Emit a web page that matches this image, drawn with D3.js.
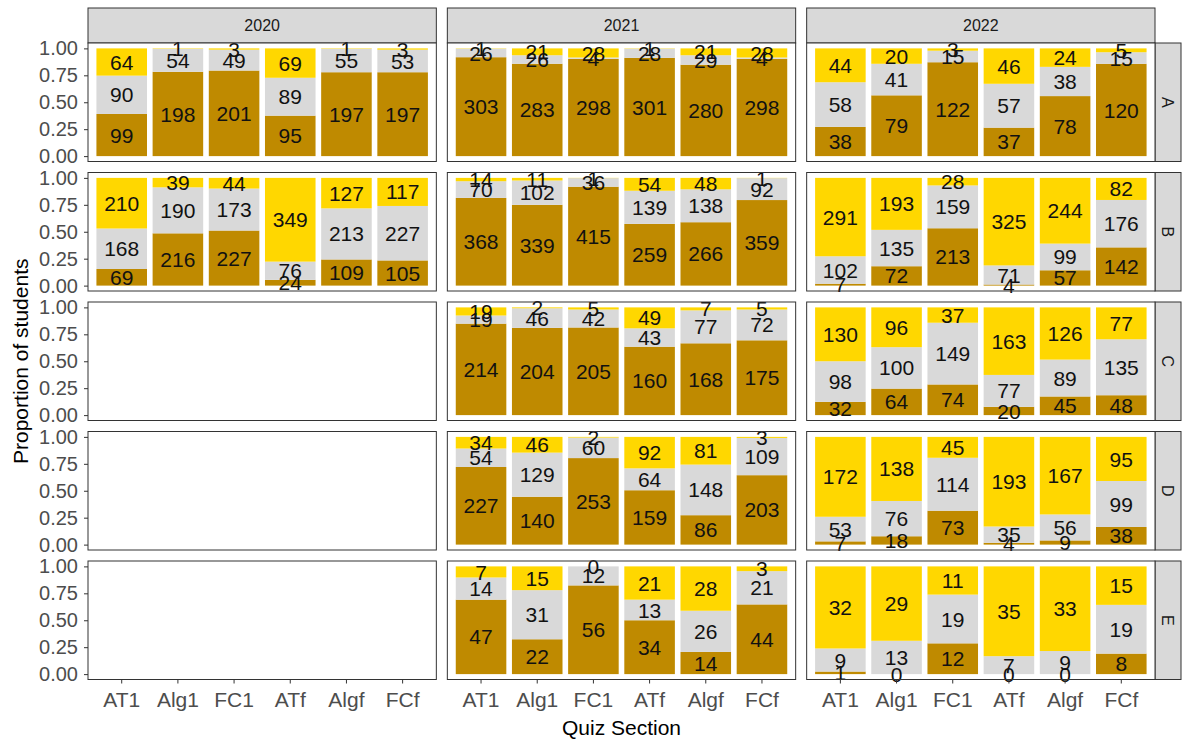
<!DOCTYPE html>
<html>
<head>
<meta charset="utf-8">
<script src="https://cdn.jsdelivr.net/npm/d3@7"></script>
<style>
  body { margin: 0; background: #fff; }
  svg { display: block; font-family: "Liberation Sans", Arial, sans-serif; }
</style>
</head>
<body>
<svg id="chart" width="1183" height="740"></svg>
<script>
// Facets, categories and outcome groups
const years = ["2020", "2021", "2022"];
const sections = ["A", "B", "C", "D", "E"];
const quizzes = ["AT1", "Alg1", "FC1", "ATf", "Algf", "FCf"];
const outcomes = ["Full", "Partial", "None"];           // stacked bottom -> top
const yTicks = [0, 0.25, 0.5, 0.75, 1];

// Student counts: one row per section (A..E), one value per quiz section.
// null = section not run that year.
const full2020 = [
  [99, 198, 201, 95, 197, 197],
  [69, 216, 227, 24, 109, 105],
  null, null, null
];
const partial2020 = [
  [90, 54, 49, 89, 55, 53],
  [168, 190, 173, 76, 213, 227],
  null, null, null
];
const none2020 = [
  [64, 1, 3, 69, 1, 3],
  [210, 39, 44, 349, 127, 117],
  null, null, null
];

const full2021 = [
  [303, 283, 298, 301, 280, 298],
  [368, 339, 415, 259, 266, 359],
  [214, 204, 205, 160, 168, 175],
  [227, 140, 253, 159, 86, 203],
  [47, 22, 56, 34, 14, 44]
];
const partial2021 = [
  [26, 26, 4, 28, 29, 4],
  [70, 102, 36, 139, 138, 92],
  [19, 46, 42, 43, 77, 72],
  [54, 129, 60, 64, 148, 109],
  [14, 31, 12, 13, 26, 21]
];
const none2021 = [
  [1, 21, 28, 1, 21, 28],
  [14, 11, 1, 54, 48, 1],
  [19, 2, 5, 49, 7, 5],
  [34, 46, 2, 92, 81, 3],
  [7, 15, 0, 21, 28, 3]
];

const full2022 = [
  [38, 79, 122, 37, 78, 120],
  [7, 72, 213, 4, 57, 142],
  [32, 64, 74, 20, 45, 48],
  [7, 18, 73, 4, 9, 38],
  [1, 0, 12, 0, 0, 8]
];
const partial2022 = [
  [58, 41, 15, 57, 38, 15],
  [102, 135, 159, 71, 99, 176],
  [98, 100, 149, 77, 89, 135],
  [53, 76, 114, 35, 56, 99],
  [9, 13, 19, 7, 9, 19]
];
const none2022 = [
  [44, 20, 3, 46, 24, 5],
  [291, 193, 28, 325, 244, 82],
  [130, 96, 37, 163, 126, 77],
  [172, 138, 45, 193, 167, 95],
  [32, 29, 11, 35, 33, 15]
];

const countsByYear = {
  "2020": [full2020, partial2020, none2020],
  "2021": [full2021, partial2021, none2021],
  "2022": [full2022, partial2022, none2022]
};

// ---- styling ----
// brown at the bottom, grey in the middle, gold on top
const fillColor = d3.scaleOrdinal().domain(outcomes).range(["#BF8A00", "#D9D9D9", "#FFD700"]);

const svg = d3.select("#chart");

const gridL = 88, gridR = 1155, gridT = 43, gridB = 679.5;
const colGap = 11, rowGap = 11;
const facetX = d3.scaleBand().domain(years).range([gridL, gridR])
  .paddingInner(colGap / ((gridR - gridL + colGap) / 3));
const facetY = d3.scaleBand().domain(sections).range([gridT, gridB])
  .paddingInner(rowGap / ((gridB - gridT + rowGap) / 5));
const pw = facetX.bandwidth(), ph = facetY.bandwidth();

const x = d3.scaleBand().domain(quizzes).range([0, pw]).paddingInner(0.1).paddingOuter(0.15);
const y = d3.scaleLinear().domain([-0.05, 1.05]).range([ph, 0]);

const stripTop = 8, stripRightW = 26;

// top strips (years)
years.forEach(yr => {
  const g = svg.append("g").attr("transform", `translate(${facetX(yr)},${stripTop})`);
  g.append("rect").attr("width", pw).attr("height", gridT - stripTop)
    .attr("fill", "#D9D9D9").attr("stroke", "#333").attr("stroke-width", 1);
  g.append("text").attr("x", pw / 2).attr("y", (gridT - stripTop) / 2).attr("dy", "0.36em")
    .attr("text-anchor", "middle").attr("font-size", 16).attr("fill", "#1A1A1A").text(yr);
});

// right strips (sections)
sections.forEach(sec => {
  const g = svg.append("g").attr("transform", `translate(${gridR},${facetY(sec)})`);
  g.append("rect").attr("width", stripRightW).attr("height", ph)
    .attr("fill", "#D9D9D9").attr("stroke", "#333").attr("stroke-width", 1);
  g.append("text").attr("transform", `translate(${stripRightW / 2},${ph / 2}) rotate(90)`)
    .attr("dy", "0.36em").attr("text-anchor", "middle").attr("font-size", 16)
    .attr("fill", "#1A1A1A").text(sec);
});

// panels
years.forEach(yr => {
  sections.forEach((sec, si) => {
    const g = svg.append("g").attr("transform", `translate(${facetX(yr)},${facetY(sec)})`);
    g.append("rect").attr("width", pw).attr("height", ph).attr("fill", "#fff");

    const sets = countsByYear[yr];
    const rows = sets.map(s => s[si]);
    if (rows[0]) {
      const segs = [];
      quizzes.forEach((q, qi) => {
        const vals = rows.map(r => r[qi]);
        const total = d3.sum(vals);
        let acc = 0;
        vals.forEach((v, k) => {
          const y0 = acc / total, y1 = (acc + v) / total;
          segs.push({ q, outcome: outcomes[k], n: v, y0, y1 });
          acc += v;
        });
      });
      g.selectAll("rect.bar").data(segs).join("rect").attr("class", "bar")
        .attr("x", d => x(d.q)).attr("width", x.bandwidth())
        .attr("y", d => y(d.y1)).attr("height", d => y(d.y0) - y(d.y1))
        .attr("fill", d => fillColor(d.outcome));
      g.selectAll("text.lab").data(segs).join("text").attr("class", "lab")
        .attr("x", d => x(d.q) + x.bandwidth() / 2)
        .attr("y", d => y((d.y0 + d.y1) / 2)).attr("dy", "0.36em")
        .attr("text-anchor", "middle").attr("font-size", 21).attr("fill", "#111")
        .text(d => d.n);
    }

    g.append("rect").attr("width", pw).attr("height", ph)
      .attr("fill", "none").attr("stroke", "#333").attr("stroke-width", 1);

    if (yr === years[0]) {
      const ax = g.append("g").call(d3.axisLeft(y).tickValues(yTicks)
        .tickFormat(d3.format(".2f")).tickSize(4).tickPadding(6));
      ax.select(".domain").remove();
      ax.selectAll("line").attr("stroke", "#333");
      ax.selectAll("text").attr("font-size", 20).attr("fill", "#4D4D4D")
        .attr("font-family", "Liberation Sans, Arial, sans-serif");
    }
    if (sec === sections[sections.length - 1]) {
      const ax = g.append("g").attr("transform", `translate(0,${ph})`)
        .call(d3.axisBottom(x).tickSize(4).tickPadding(9));
      ax.select(".domain").remove();
      ax.selectAll("line").attr("stroke", "#333");
      ax.selectAll("text").attr("font-size", 21).attr("fill", "#4D4D4D")
        .attr("font-family", "Liberation Sans, Arial, sans-serif");
    }
  });
});

// axis titles
svg.append("text").attr("x", (gridL + gridR) / 2).attr("y", 735)
  .attr("text-anchor", "middle").attr("font-size", 21).attr("fill", "#000")
  .text("Quiz Section");
svg.append("text").attr("transform", `translate(28,${(gridT + gridB) / 2}) rotate(-90)`)
  .attr("text-anchor", "middle").attr("font-size", 21).attr("fill", "#000")
  .text("Proportion of students");
</script>
</body>
</html>
